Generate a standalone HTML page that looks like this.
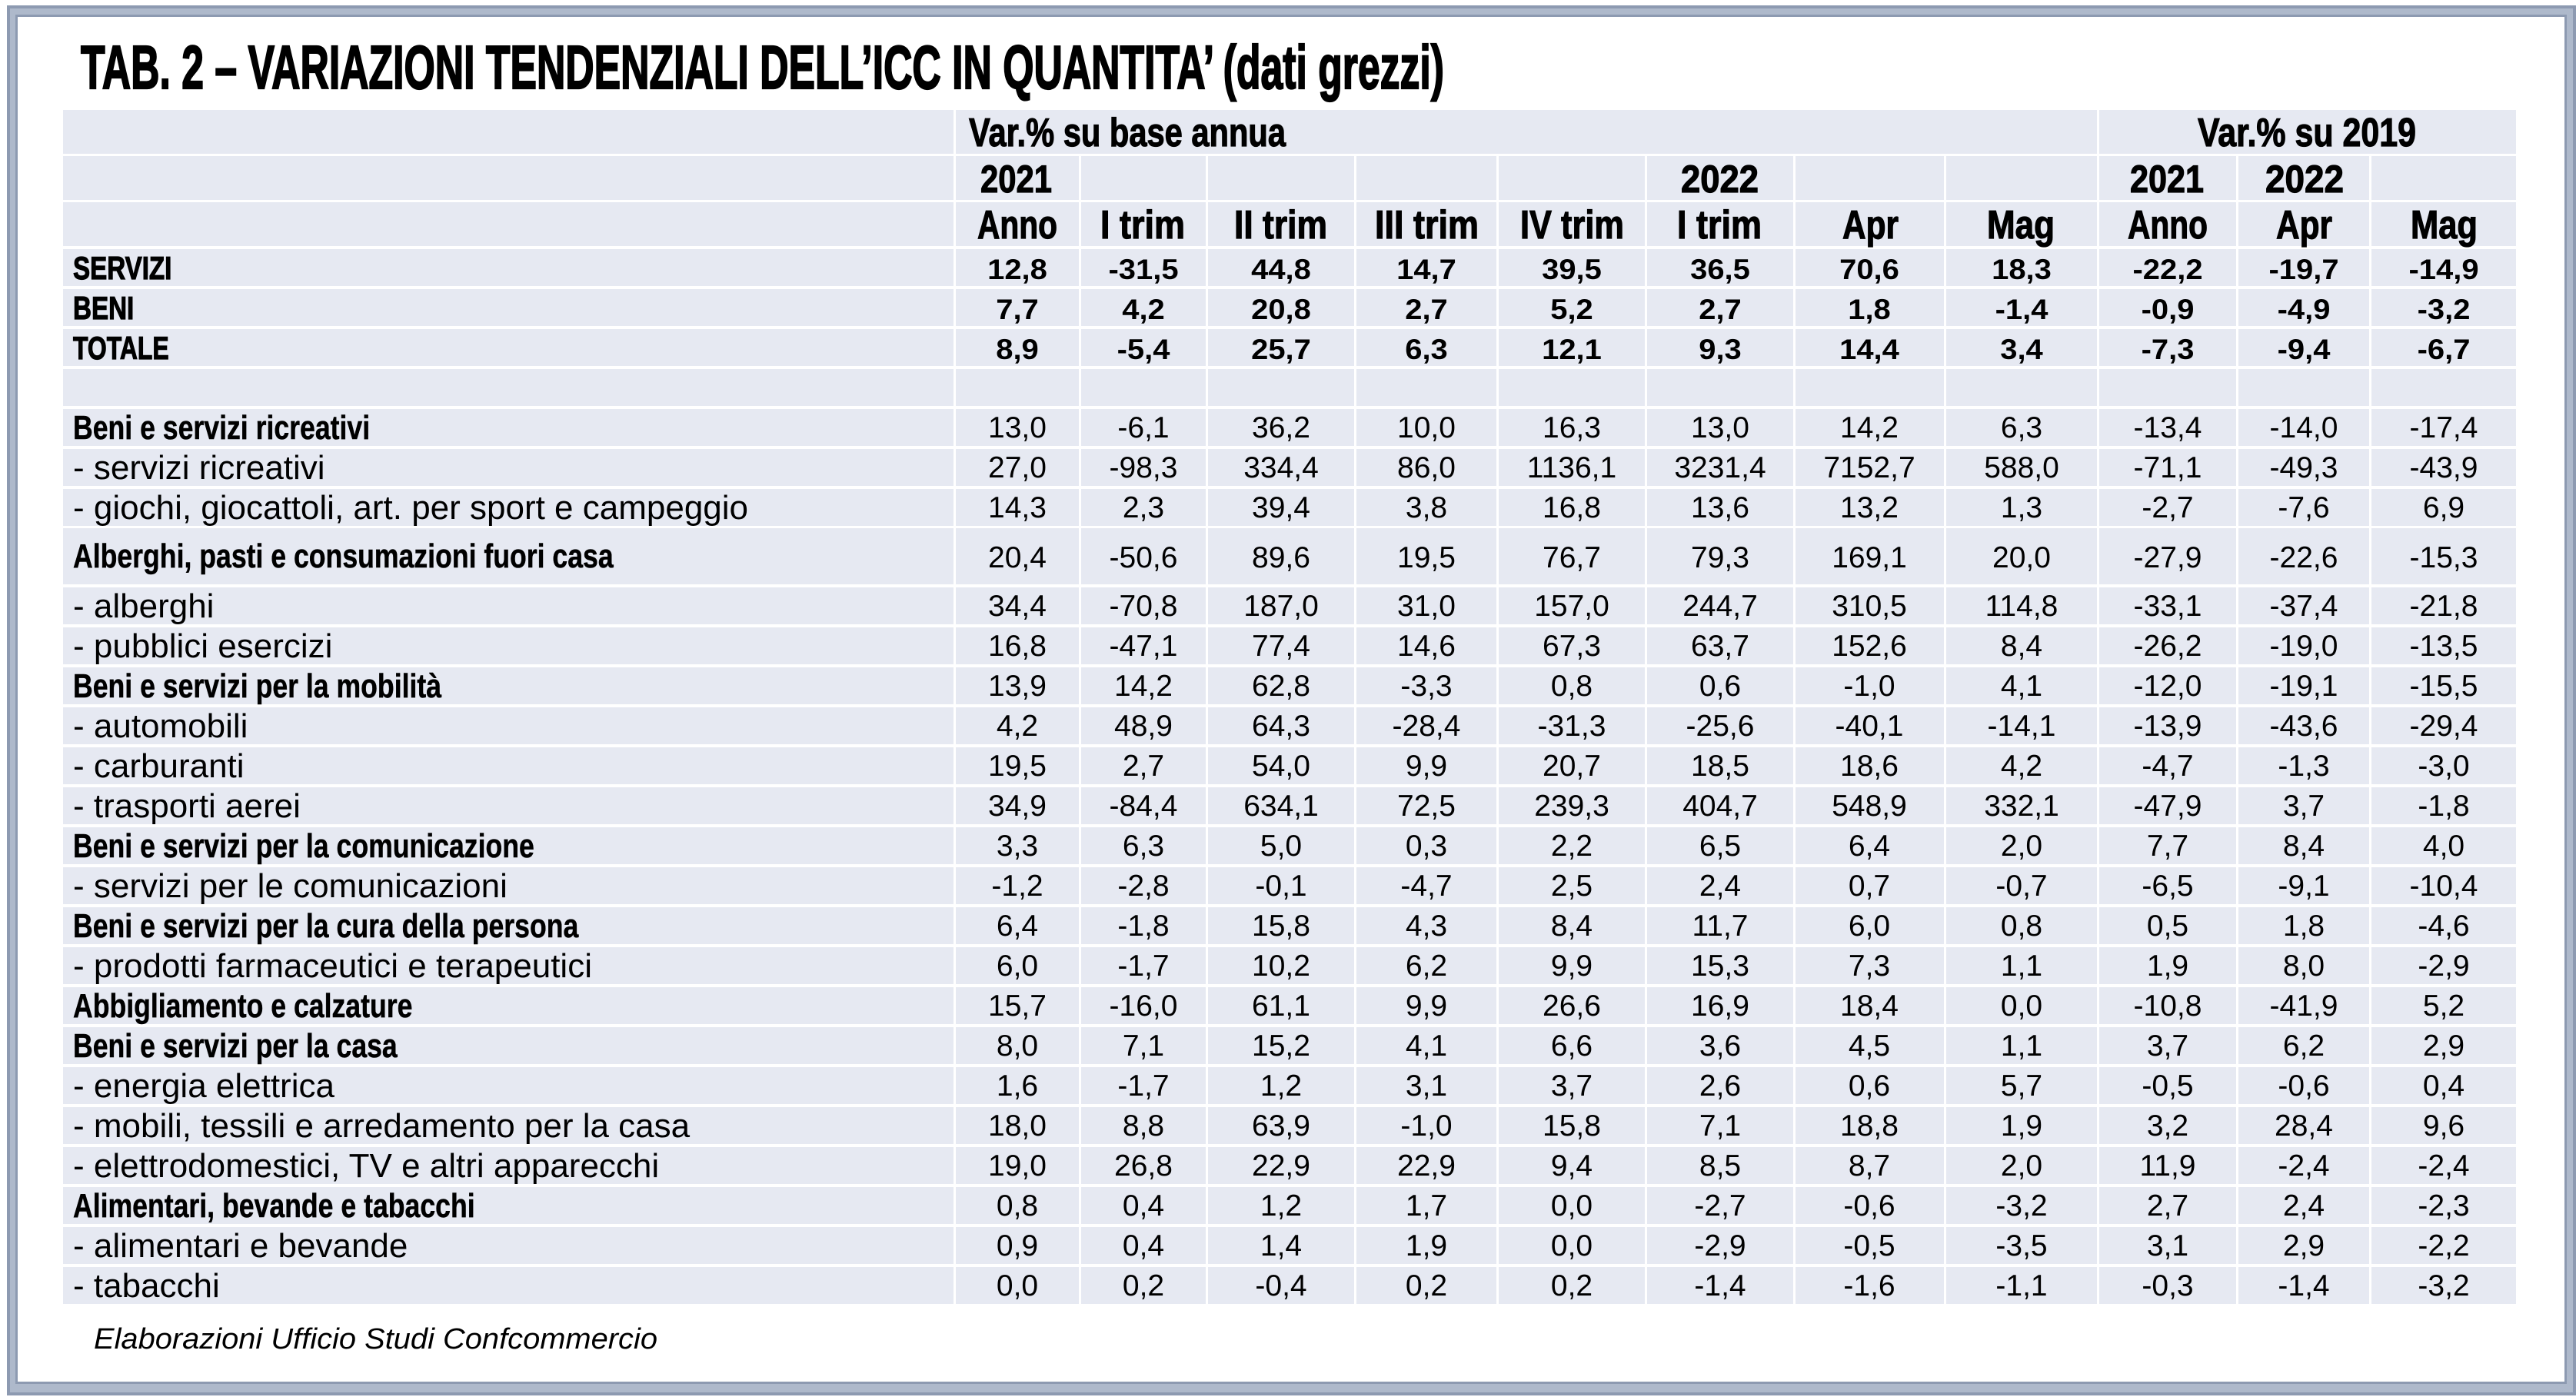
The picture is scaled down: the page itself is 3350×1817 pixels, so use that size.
<!DOCTYPE html>
<html><head><meta charset="utf-8"><style>
html,body{margin:0;padding:0;background:#fff;}
svg{display:block;}
text{font-family:"Liberation Sans",Arial,sans-serif;fill:#000;}
.h{font-weight:bold;stroke:#000;stroke-width:1.2px;}
.n{font-size:39px;text-anchor:middle;}
.bn{font-size:37px;font-weight:bold;text-anchor:middle;}
.l{font-size:44px;}
.bl{font-size:44px;font-weight:bold;stroke:#000;stroke-width:0.5px;}
</style></head><body>
<svg width="3350" height="1817" viewBox="0 0 3350 1817" xmlns="http://www.w3.org/2000/svg">
<rect x="0" y="0" width="3350" height="1817" fill="#fff"/>
<!-- frame -->
<rect x="9" y="7" width="3341" height="1808" fill="#8D9AB1"/>
<rect x="13" y="11" width="3333" height="1800" fill="#AEB9CB"/>
<rect x="20" y="19" width="3318" height="1781" fill="#8D9AB1"/>
<rect x="23" y="22" width="3312" height="1775" fill="#fff"/>
<!-- title -->
<text class="h" x="105" y="115" font-size="80" style="stroke-width:2.2px" textLength="1773" lengthAdjust="spacingAndGlyphs">TAB. 2 – VARIAZIONI TENDENZIALI DELL’ICC IN QUANTITA’ (dati grezzi)</text>
<!-- rows background -->
<g fill="#E6E9F2">
<rect x="82" y="143" width="3190" height="57"/>
<rect x="82" y="203" width="3190" height="57"/>
<rect x="82" y="263" width="3190" height="57"/>
<rect x="82" y="324" width="3190" height="48"/>
<rect x="82" y="376" width="3190" height="48"/>
<rect x="82" y="428" width="3190" height="48"/>
<rect x="82" y="480" width="3190" height="48"/>
<rect x="82" y="532" width="3190" height="48"/>
<rect x="82" y="584" width="3190" height="48"/>
<rect x="82" y="636" width="3190" height="48"/>
<rect x="82" y="687" width="3190" height="73"/>
<rect x="82" y="764" width="3190" height="48"/>
<rect x="82" y="816" width="3190" height="48"/>
<rect x="82" y="868" width="3190" height="48"/>
<rect x="82" y="920" width="3190" height="48"/>
<rect x="82" y="972" width="3190" height="48"/>
<rect x="82" y="1024" width="3190" height="48"/>
<rect x="82" y="1076" width="3190" height="48"/>
<rect x="82" y="1128" width="3190" height="48"/>
<rect x="82" y="1180" width="3190" height="48"/>
<rect x="82" y="1232" width="3190" height="48"/>
<rect x="82" y="1284" width="3190" height="48"/>
<rect x="82" y="1336" width="3190" height="48"/>
<rect x="82" y="1388" width="3190" height="48"/>
<rect x="82" y="1440" width="3190" height="48"/>
<rect x="82" y="1492" width="3190" height="48"/>
<rect x="82" y="1544" width="3190" height="48"/>
<rect x="82" y="1596" width="3190" height="48"/>
<rect x="82" y="1648" width="3190" height="48"/>
</g>
<!-- separators -->
<g fill="#fff">
<rect x="1240" y="140" width="3" height="1560"/>
<rect x="2727" y="140" width="3" height="1560"/>
<rect x="1403" y="201" width="3" height="1499"/>
<rect x="1568" y="201" width="3" height="1499"/>
<rect x="1761" y="201" width="3" height="1499"/>
<rect x="1946" y="201" width="3" height="1499"/>
<rect x="2139" y="201" width="3" height="1499"/>
<rect x="2332" y="201" width="3" height="1499"/>
<rect x="2528" y="201" width="3" height="1499"/>
<rect x="2908" y="201" width="3" height="1499"/>
<rect x="3081" y="201" width="3" height="1499"/>
</g>
<!-- header row 1 -->
<text class="h" x="1260" y="190" font-size="52" textLength="412" lengthAdjust="spacingAndGlyphs">Var.% su base annua</text>
<text class="h" x="2858" y="190" font-size="52" textLength="284" lengthAdjust="spacingAndGlyphs">Var.% su 2019</text>
<!-- header row 2 -->
<text class="h" x="1275" y="250" font-size="50" textLength="93" lengthAdjust="spacingAndGlyphs">2021</text>
<text class="h" x="2186" y="250" font-size="50" textLength="101" lengthAdjust="spacingAndGlyphs">2022</text>
<text class="h" x="2770" y="250" font-size="50" textLength="96" lengthAdjust="spacingAndGlyphs">2021</text>
<text class="h" x="2946" y="250" font-size="50" textLength="102" lengthAdjust="spacingAndGlyphs">2022</text>
<!-- header row 3 -->
<g class="h" font-size="52">
<text x="1271" y="310" textLength="104" lengthAdjust="spacingAndGlyphs">Anno</text>
<text x="1431" y="310" textLength="110" lengthAdjust="spacingAndGlyphs">I trim</text>
<text x="1605" y="310" textLength="121" lengthAdjust="spacingAndGlyphs">II trim</text>
<text x="1788" y="310" textLength="135" lengthAdjust="spacingAndGlyphs">III trim</text>
<text x="1977" y="310" textLength="135" lengthAdjust="spacingAndGlyphs">IV trim</text>
<text x="2181" y="310" textLength="110" lengthAdjust="spacingAndGlyphs">I trim</text>
<text x="2396" y="310" textLength="73" lengthAdjust="spacingAndGlyphs">Apr</text>
<text x="2584" y="310" textLength="88" lengthAdjust="spacingAndGlyphs">Mag</text>
<text x="2767" y="310" textLength="104" lengthAdjust="spacingAndGlyphs">Anno</text>
<text x="2960" y="310" textLength="73" lengthAdjust="spacingAndGlyphs">Apr</text>
<text x="3135" y="310" textLength="87" lengthAdjust="spacingAndGlyphs">Mag</text>
</g>
<!-- SERVIZI / BENI / TOTALE labels -->
<text class="h" font-size="42" transform="translate(95,363) scale(0.79,1)">SERVIZI</text>
<text class="h" font-size="42" transform="translate(95,415) scale(0.79,1)">BENI</text>
<text class="h" font-size="42" transform="translate(95,467) scale(0.76,1)">TOTALE</text>
<!-- bold header numbers -->
<g class="bn">
<text transform="translate(1323,363) scale(1.08,1)">12,8</text>
<text transform="translate(1487,363) scale(1.08,1)">-31,5</text>
<text transform="translate(1666,363) scale(1.08,1)">44,8</text>
<text transform="translate(1855,363) scale(1.08,1)">14,7</text>
<text transform="translate(2044,363) scale(1.08,1)">39,5</text>
<text transform="translate(2237,363) scale(1.08,1)">36,5</text>
<text transform="translate(2431,363) scale(1.08,1)">70,6</text>
<text transform="translate(2629,363) scale(1.08,1)">18,3</text>
<text transform="translate(2819,363) scale(1.08,1)">-22,2</text>
<text transform="translate(2996,363) scale(1.08,1)">-19,7</text>
<text transform="translate(3178,363) scale(1.08,1)">-14,9</text>

<text transform="translate(1323,415) scale(1.08,1)">7,7</text>
<text transform="translate(1487,415) scale(1.08,1)">4,2</text>
<text transform="translate(1666,415) scale(1.08,1)">20,8</text>
<text transform="translate(1855,415) scale(1.08,1)">2,7</text>
<text transform="translate(2044,415) scale(1.08,1)">5,2</text>
<text transform="translate(2237,415) scale(1.08,1)">2,7</text>
<text transform="translate(2431,415) scale(1.08,1)">1,8</text>
<text transform="translate(2629,415) scale(1.08,1)">-1,4</text>
<text transform="translate(2819,415) scale(1.08,1)">-0,9</text>
<text transform="translate(2996,415) scale(1.08,1)">-4,9</text>
<text transform="translate(3178,415) scale(1.08,1)">-3,2</text>

<text transform="translate(1323,467) scale(1.08,1)">8,9</text>
<text transform="translate(1487,467) scale(1.08,1)">-5,4</text>
<text transform="translate(1666,467) scale(1.08,1)">25,7</text>
<text transform="translate(1855,467) scale(1.08,1)">6,3</text>
<text transform="translate(2044,467) scale(1.08,1)">12,1</text>
<text transform="translate(2237,467) scale(1.08,1)">9,3</text>
<text transform="translate(2431,467) scale(1.08,1)">14,4</text>
<text transform="translate(2629,467) scale(1.08,1)">3,4</text>
<text transform="translate(2819,467) scale(1.08,1)">-7,3</text>
<text transform="translate(2996,467) scale(1.08,1)">-9,4</text>
<text transform="translate(3178,467) scale(1.08,1)">-6,7</text>
</g>

<!-- labels -->
<text class="bl" transform="translate(95,571) scale(0.81,1)">Beni e servizi ricreativi</text>
<text class="l" x="95" y="623">- servizi ricreativi</text>
<text class="l" x="95" y="675">- giochi, giocattoli, art. per sport e campeggio</text>
<text class="bl" transform="translate(95,738) scale(0.81,1)">Alberghi, pasti e consumazioni fuori casa</text>
<text class="l" x="95" y="803">- alberghi</text>
<text class="l" x="95" y="855">- pubblici esercizi</text>
<text class="bl" transform="translate(95,907) scale(0.81,1)">Beni e servizi per la mobilità</text>
<text class="l" x="95" y="959">- automobili</text>
<text class="l" x="95" y="1011">- carburanti</text>
<text class="l" x="95" y="1063">- trasporti aerei</text>
<text class="bl" transform="translate(95,1115) scale(0.81,1)">Beni e servizi per la comunicazione</text>
<text class="l" x="95" y="1167">- servizi per le comunicazioni</text>
<text class="bl" transform="translate(95,1219) scale(0.81,1)">Beni e servizi per la cura della persona</text>
<text class="l" x="95" y="1271">- prodotti farmaceutici e terapeutici</text>
<text class="bl" transform="translate(95,1323) scale(0.81,1)">Abbigliamento e calzature</text>
<text class="bl" transform="translate(95,1375) scale(0.81,1)">Beni e servizi per la casa</text>
<text class="l" x="95" y="1427">- energia elettrica</text>
<text class="l" x="95" y="1479">- mobili, tessili e arredamento per la casa</text>
<text class="l" x="95" y="1531">- elettrodomestici, TV e altri apparecchi</text>
<text class="bl" transform="translate(95,1583) scale(0.81,1)">Alimentari, bevande e tabacchi</text>
<text class="l" x="95" y="1635">- alimentari e bevande</text>
<text class="l" x="95" y="1687">- tabacchi</text>

<!-- numbers -->
<g class="n">
<text x="1323" y="569">13,0</text><text x="1487" y="569">-6,1</text><text x="1666" y="569">36,2</text><text x="1855" y="569">10,0</text><text x="2044" y="569">16,3</text><text x="2237" y="569">13,0</text><text x="2431" y="569">14,2</text><text x="2629" y="569">6,3</text><text x="2819" y="569">-13,4</text><text x="2996" y="569">-14,0</text><text x="3178" y="569">-17,4</text>
<text x="1323" y="621">27,0</text><text x="1487" y="621">-98,3</text><text x="1666" y="621">334,4</text><text x="1855" y="621">86,0</text><text x="2044" y="621">1136,1</text><text x="2237" y="621">3231,4</text><text x="2431" y="621">7152,7</text><text x="2629" y="621">588,0</text><text x="2819" y="621">-71,1</text><text x="2996" y="621">-49,3</text><text x="3178" y="621">-43,9</text>
<text x="1323" y="673">14,3</text><text x="1487" y="673">2,3</text><text x="1666" y="673">39,4</text><text x="1855" y="673">3,8</text><text x="2044" y="673">16,8</text><text x="2237" y="673">13,6</text><text x="2431" y="673">13,2</text><text x="2629" y="673">1,3</text><text x="2819" y="673">-2,7</text><text x="2996" y="673">-7,6</text><text x="3178" y="673">6,9</text>
<text x="1323" y="738">20,4</text><text x="1487" y="738">-50,6</text><text x="1666" y="738">89,6</text><text x="1855" y="738">19,5</text><text x="2044" y="738">76,7</text><text x="2237" y="738">79,3</text><text x="2431" y="738">169,1</text><text x="2629" y="738">20,0</text><text x="2819" y="738">-27,9</text><text x="2996" y="738">-22,6</text><text x="3178" y="738">-15,3</text>
<text x="1323" y="801">34,4</text><text x="1487" y="801">-70,8</text><text x="1666" y="801">187,0</text><text x="1855" y="801">31,0</text><text x="2044" y="801">157,0</text><text x="2237" y="801">244,7</text><text x="2431" y="801">310,5</text><text x="2629" y="801">114,8</text><text x="2819" y="801">-33,1</text><text x="2996" y="801">-37,4</text><text x="3178" y="801">-21,8</text>
<text x="1323" y="853">16,8</text><text x="1487" y="853">-47,1</text><text x="1666" y="853">77,4</text><text x="1855" y="853">14,6</text><text x="2044" y="853">67,3</text><text x="2237" y="853">63,7</text><text x="2431" y="853">152,6</text><text x="2629" y="853">8,4</text><text x="2819" y="853">-26,2</text><text x="2996" y="853">-19,0</text><text x="3178" y="853">-13,5</text>
<text x="1323" y="905">13,9</text><text x="1487" y="905">14,2</text><text x="1666" y="905">62,8</text><text x="1855" y="905">-3,3</text><text x="2044" y="905">0,8</text><text x="2237" y="905">0,6</text><text x="2431" y="905">-1,0</text><text x="2629" y="905">4,1</text><text x="2819" y="905">-12,0</text><text x="2996" y="905">-19,1</text><text x="3178" y="905">-15,5</text>
<text x="1323" y="957">4,2</text><text x="1487" y="957">48,9</text><text x="1666" y="957">64,3</text><text x="1855" y="957">-28,4</text><text x="2044" y="957">-31,3</text><text x="2237" y="957">-25,6</text><text x="2431" y="957">-40,1</text><text x="2629" y="957">-14,1</text><text x="2819" y="957">-13,9</text><text x="2996" y="957">-43,6</text><text x="3178" y="957">-29,4</text>
<text x="1323" y="1009">19,5</text><text x="1487" y="1009">2,7</text><text x="1666" y="1009">54,0</text><text x="1855" y="1009">9,9</text><text x="2044" y="1009">20,7</text><text x="2237" y="1009">18,5</text><text x="2431" y="1009">18,6</text><text x="2629" y="1009">4,2</text><text x="2819" y="1009">-4,7</text><text x="2996" y="1009">-1,3</text><text x="3178" y="1009">-3,0</text>
<text x="1323" y="1061">34,9</text><text x="1487" y="1061">-84,4</text><text x="1666" y="1061">634,1</text><text x="1855" y="1061">72,5</text><text x="2044" y="1061">239,3</text><text x="2237" y="1061">404,7</text><text x="2431" y="1061">548,9</text><text x="2629" y="1061">332,1</text><text x="2819" y="1061">-47,9</text><text x="2996" y="1061">3,7</text><text x="3178" y="1061">-1,8</text>
<text x="1323" y="1113">3,3</text><text x="1487" y="1113">6,3</text><text x="1666" y="1113">5,0</text><text x="1855" y="1113">0,3</text><text x="2044" y="1113">2,2</text><text x="2237" y="1113">6,5</text><text x="2431" y="1113">6,4</text><text x="2629" y="1113">2,0</text><text x="2819" y="1113">7,7</text><text x="2996" y="1113">8,4</text><text x="3178" y="1113">4,0</text>
<text x="1323" y="1165">-1,2</text><text x="1487" y="1165">-2,8</text><text x="1666" y="1165">-0,1</text><text x="1855" y="1165">-4,7</text><text x="2044" y="1165">2,5</text><text x="2237" y="1165">2,4</text><text x="2431" y="1165">0,7</text><text x="2629" y="1165">-0,7</text><text x="2819" y="1165">-6,5</text><text x="2996" y="1165">-9,1</text><text x="3178" y="1165">-10,4</text>
<text x="1323" y="1217">6,4</text><text x="1487" y="1217">-1,8</text><text x="1666" y="1217">15,8</text><text x="1855" y="1217">4,3</text><text x="2044" y="1217">8,4</text><text x="2237" y="1217">11,7</text><text x="2431" y="1217">6,0</text><text x="2629" y="1217">0,8</text><text x="2819" y="1217">0,5</text><text x="2996" y="1217">1,8</text><text x="3178" y="1217">-4,6</text>
<text x="1323" y="1269">6,0</text><text x="1487" y="1269">-1,7</text><text x="1666" y="1269">10,2</text><text x="1855" y="1269">6,2</text><text x="2044" y="1269">9,9</text><text x="2237" y="1269">15,3</text><text x="2431" y="1269">7,3</text><text x="2629" y="1269">1,1</text><text x="2819" y="1269">1,9</text><text x="2996" y="1269">8,0</text><text x="3178" y="1269">-2,9</text>
<text x="1323" y="1321">15,7</text><text x="1487" y="1321">-16,0</text><text x="1666" y="1321">61,1</text><text x="1855" y="1321">9,9</text><text x="2044" y="1321">26,6</text><text x="2237" y="1321">16,9</text><text x="2431" y="1321">18,4</text><text x="2629" y="1321">0,0</text><text x="2819" y="1321">-10,8</text><text x="2996" y="1321">-41,9</text><text x="3178" y="1321">5,2</text>
<text x="1323" y="1373">8,0</text><text x="1487" y="1373">7,1</text><text x="1666" y="1373">15,2</text><text x="1855" y="1373">4,1</text><text x="2044" y="1373">6,6</text><text x="2237" y="1373">3,6</text><text x="2431" y="1373">4,5</text><text x="2629" y="1373">1,1</text><text x="2819" y="1373">3,7</text><text x="2996" y="1373">6,2</text><text x="3178" y="1373">2,9</text>
<text x="1323" y="1425">1,6</text><text x="1487" y="1425">-1,7</text><text x="1666" y="1425">1,2</text><text x="1855" y="1425">3,1</text><text x="2044" y="1425">3,7</text><text x="2237" y="1425">2,6</text><text x="2431" y="1425">0,6</text><text x="2629" y="1425">5,7</text><text x="2819" y="1425">-0,5</text><text x="2996" y="1425">-0,6</text><text x="3178" y="1425">0,4</text>
<text x="1323" y="1477">18,0</text><text x="1487" y="1477">8,8</text><text x="1666" y="1477">63,9</text><text x="1855" y="1477">-1,0</text><text x="2044" y="1477">15,8</text><text x="2237" y="1477">7,1</text><text x="2431" y="1477">18,8</text><text x="2629" y="1477">1,9</text><text x="2819" y="1477">3,2</text><text x="2996" y="1477">28,4</text><text x="3178" y="1477">9,6</text>
<text x="1323" y="1529">19,0</text><text x="1487" y="1529">26,8</text><text x="1666" y="1529">22,9</text><text x="1855" y="1529">22,9</text><text x="2044" y="1529">9,4</text><text x="2237" y="1529">8,5</text><text x="2431" y="1529">8,7</text><text x="2629" y="1529">2,0</text><text x="2819" y="1529">11,9</text><text x="2996" y="1529">-2,4</text><text x="3178" y="1529">-2,4</text>
<text x="1323" y="1581">0,8</text><text x="1487" y="1581">0,4</text><text x="1666" y="1581">1,2</text><text x="1855" y="1581">1,7</text><text x="2044" y="1581">0,0</text><text x="2237" y="1581">-2,7</text><text x="2431" y="1581">-0,6</text><text x="2629" y="1581">-3,2</text><text x="2819" y="1581">2,7</text><text x="2996" y="1581">2,4</text><text x="3178" y="1581">-2,3</text>
<text x="1323" y="1633">0,9</text><text x="1487" y="1633">0,4</text><text x="1666" y="1633">1,4</text><text x="1855" y="1633">1,9</text><text x="2044" y="1633">0,0</text><text x="2237" y="1633">-2,9</text><text x="2431" y="1633">-0,5</text><text x="2629" y="1633">-3,5</text><text x="2819" y="1633">3,1</text><text x="2996" y="1633">2,9</text><text x="3178" y="1633">-2,2</text>
<text x="1323" y="1685">0,0</text><text x="1487" y="1685">0,2</text><text x="1666" y="1685">-0,4</text><text x="1855" y="1685">0,2</text><text x="2044" y="1685">0,2</text><text x="2237" y="1685">-1,4</text><text x="2431" y="1685">-1,6</text><text x="2629" y="1685">-1,1</text><text x="2819" y="1685">-0,3</text><text x="2996" y="1685">-1,4</text><text x="3178" y="1685">-3,2</text>
</g>
<!-- footer -->
<text x="122" y="1754" font-size="38" font-style="italic" textLength="733" lengthAdjust="spacingAndGlyphs">Elaborazioni Ufficio Studi Confcommercio</text>
</svg>
</body></html>
